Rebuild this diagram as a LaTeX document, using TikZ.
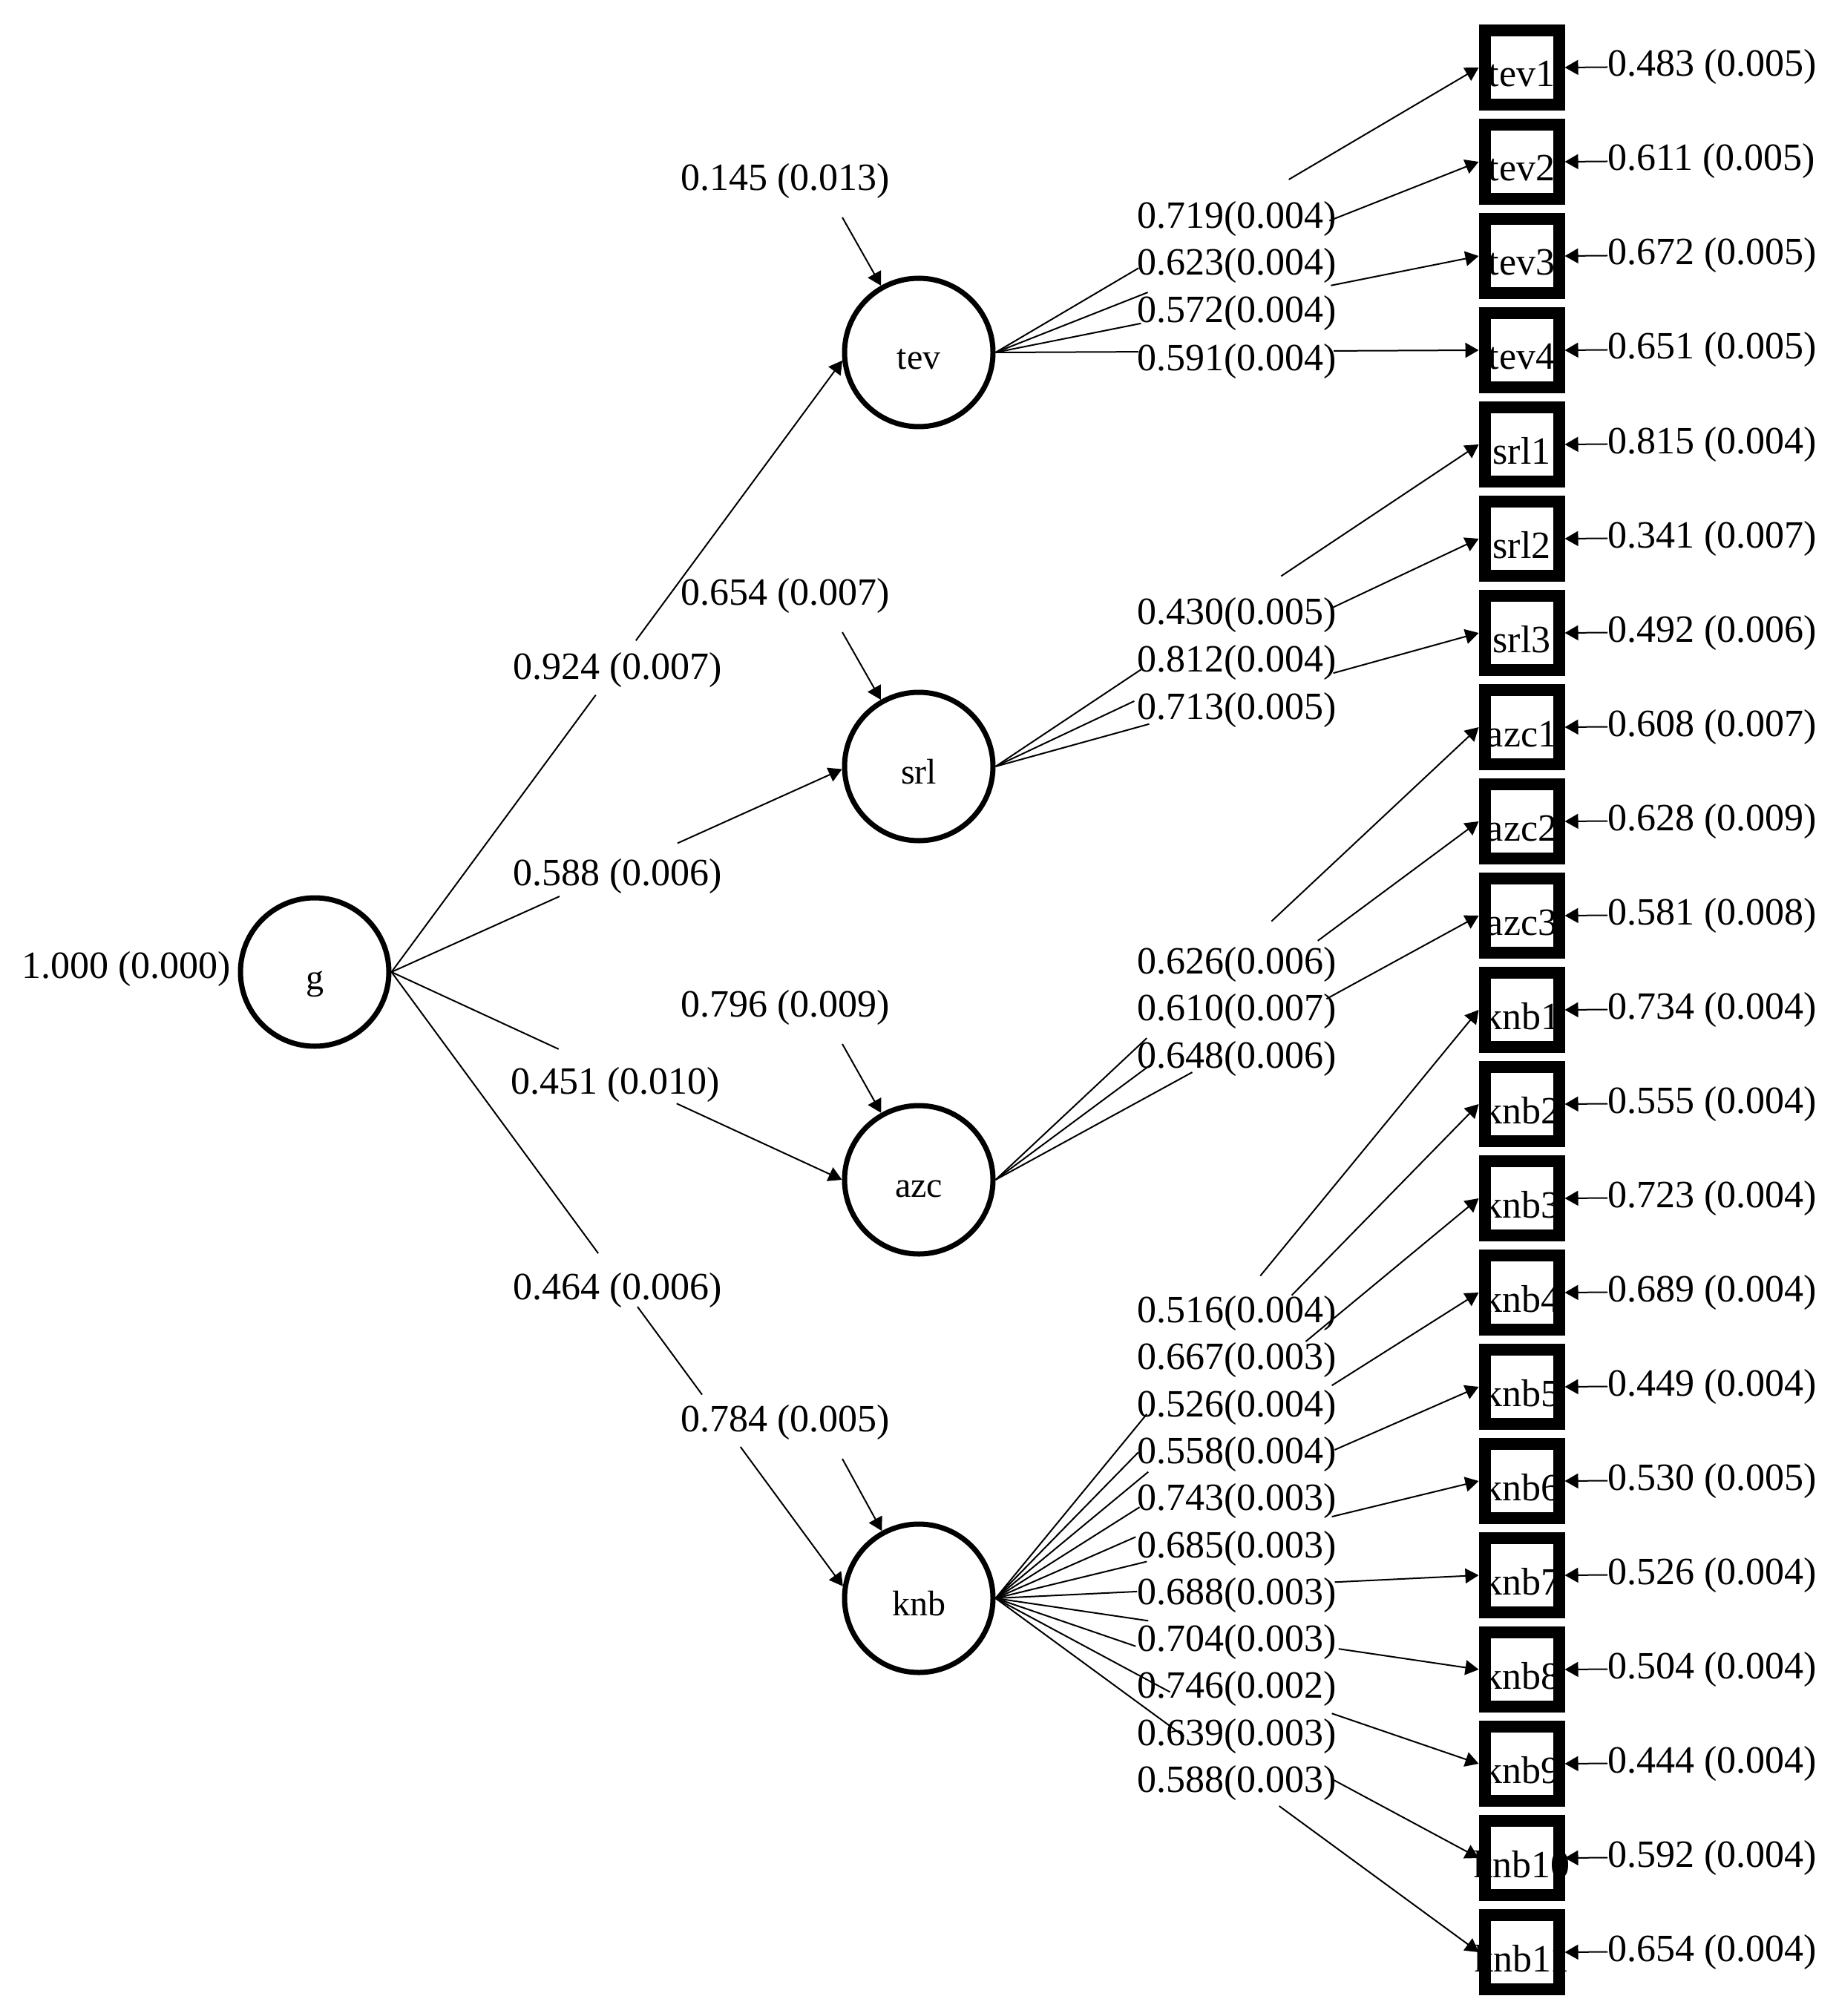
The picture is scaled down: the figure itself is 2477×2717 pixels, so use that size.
\documentclass[tikz,border=0pt]{standalone}
\usepackage{fontspec}
\setmainfont{Liberation Serif}
\usetikzlibrary{calc,arrows.meta}
\newcommand\labfont{\fontsize{26}{31}\selectfont}
\newcommand\nodefont{\fontsize{24}{29}\selectfont}
\newcommand\boxfont{\fontsize{26}{31}\selectfont}
\newcommand\loadedge[4]{%
  \draw[edgeline] (#1.east) -- ($(#1.east)!#3!(#2.west)$);
  \draw[arr] ($(#1.east)!#4!(#2.west)$) -- (#2.west);}
\begin{document}
\begin{tikzpicture}[x=0.5pt,y=-0.5pt,
  lat/.style={circle, draw, line width=3.5pt, minimum size=100pt, inner sep=0pt,
    font=\nodefont, text height=23pt, text depth=0pt},
  obs/.style={rectangle, minimum size=50pt, inner sep=0pt, outer sep=4pt,
    font=\boxfont, text height=26pt, text depth=0pt},
  obsborder/.style={draw, line width=8pt},
  lab/.style={inner sep=0pt, font=\labfont},
  edgeline/.style={line width=1pt},
  arr/.style={line width=1pt, -{Triangle[length=9pt,width=10pt]}}]
\useasboundingbox[fill=white] (0,0) rectangle (2477,2717);

% latent variables
\node[lat] (g)   at (424,1310)  {g};
\node[lat] (tev) at (1238,475)  {tev};
\node[lat] (srl) at (1238,1033) {srl};
\node[lat] (azc) at (1238,1590) {azc};
\node[lat] (knb) at (1238,2154) {knb};

\node[lab] (gvar) at (170,1306) {1.000 (0.000)};

% disturbances
\node[lab] (dtev) at (1058,244)  {0.145 (0.013)};
\node[lab] (dsrl) at (1058,803)  {0.654 (0.007)};
\node[lab] (dazc) at (1058,1358) {0.796 (0.009)};
\node[lab] (dknb) at (1058,1917) {0.784 (0.005)};
\foreach \d/\l in {dtev/tev,dsrl/srl,dazc/azc,dknb/knb}
  \draw[arr] ([shift={(77,49)}]\d.center) -- (\l);

% structural paths
\node[lab] (ptev) at (832,903)  {0.924 (0.007)};
\node[lab] (psrl) at (832,1181) {0.588 (0.006)};
\node[lab] (pazc) at (829,1462) {0.451 (0.010)};
\node[lab] (pknb) at (832,1739) {0.464 (0.006)};
\draw[edgeline] (g.east) -- ($(g.east)!0.453!(tev.186)$);
\draw[arr] ($(g.east)!0.542!(tev.186)$) -- (tev.186);
\draw[edgeline] (g.east) -- ($(g.east)!0.373!(srl.182)$);
\draw[arr] ($(g.east)!0.635!(srl.182)$) -- (srl.182);
\draw[edgeline] (g.east) -- ($(g.east)!0.371!(azc.180)$);
\draw[arr] ($(g.east)!0.633!(azc.180)$) -- (azc.180);
\draw[edgeline] (g.east) -- ($(g.east)!0.458!(knb.171)$);
\draw[edgeline] ($(g.east)!0.545!(knb.171)$) -- ($(g.east)!0.688!(knb.171)$);
\draw[arr] ($(g.east)!0.773!(knb.171)$) -- (knb.171);

% observed variables with residual variances
\foreach \nm/\i/\rv in {tev1/0/{0.483 (0.005)}, tev2/1/{0.611 (0.005)}, tev3/2/{0.672 (0.005)},
  tev4/3/{0.651 (0.005)}, srl1/4/{0.815 (0.004)}, srl2/5/{0.341 (0.007)}, srl3/6/{0.492 (0.006)},
  azc1/7/{0.608 (0.007)}, azc2/8/{0.628 (0.009)}, azc3/9/{0.581 (0.008)},
  knb1/10/{0.734 (0.004)}, knb2/11/{0.555 (0.004)}, knb3/12/{0.723 (0.004)},
  knb4/13/{0.689 (0.004)}, knb5/14/{0.449 (0.004)}, knb6/15/{0.530 (0.005)},
  knb7/16/{0.526 (0.004)}, knb8/17/{0.504 (0.004)}, knb9/18/{0.444 (0.004)},
  knb10/19/{0.592 (0.004)}, knb11/20/{0.654 (0.004)}} {
  \node[obs] (\nm) at ({2050.5},{91+127*\i}) {\makebox[0pt]{\nm}};
  \draw[obsborder] ([shift={(4pt,-4pt)}]\nm.north west) rectangle ([shift={(-4pt,4pt)}]\nm.south east);
  \node[lab, anchor=base west] (r\nm) at ({2166},{103+127*\i}) {\rv};
  \draw[arr] (r\nm.west) -- (\nm.east);
}

% loading labels
\foreach \nm/\y/\txt in {ltev1/308/{0.719(0.004)}, ltev2/371/{0.623(0.004)}, ltev3/435/{0.572(0.004)},
  ltev4/500/{0.591(0.004)}, lsrl1/841/{0.430(0.005)}, lsrl2/905/{0.812(0.004)}, lsrl3/969/{0.713(0.005)},
  lazc1/1312/{0.626(0.006)}, lazc2/1375/{0.610(0.007)}, lazc3/1439/{0.648(0.006)},
  lknb1/1782/{0.516(0.004)}, lknb2/1845/{0.667(0.003)}, lknb3/1909/{0.526(0.004)},
  lknb4/1972/{0.558(0.004)}, lknb5/2035/{0.743(0.003)}, lknb6/2099/{0.685(0.003)},
  lknb7/2162/{0.688(0.003)}, lknb8/2225/{0.704(0.003)}, lknb9/2288/{0.746(0.002)},
  lknb10/2352/{0.639(0.003)}, lknb11/2415/{0.588(0.003)}}
  \node[lab, anchor=base west] (\nm) at (1532,\y) {\txt};

% loadings
\foreach \s/\t/\a/\b in {tev/tev1/0.296/0.607, tev/tev2/0.315/0.691, tev/tev3/0.301/0.694, tev/tev4/0.296/0.700,
  srl/srl1/0.301/0.591, srl/srl2/0.287/0.694, srl/srl3/0.318/0.699,
  azc/azc1/0.313/0.571, azc/azc2/0.321/0.667, azc/azc3/0.407/0.685,
  knb/knb1/0.313/0.548, knb/knb2/0.295/0.613, knb/knb3/0.316/0.642, knb/knb4/0.298/0.696,
  knb/knb5/0.290/0.702, knb/knb6/0.313/0.696, knb/knb7/0.293/0.702, knb/knb8/0.316/0.710,
  knb/knb9/0.290/0.696, knb/knb10/0.361/0.699, knb/knb11/0.390/0.587}
  \loadedge{\s}{\t}{\a}{\b};
\end{tikzpicture}
\end{document}
